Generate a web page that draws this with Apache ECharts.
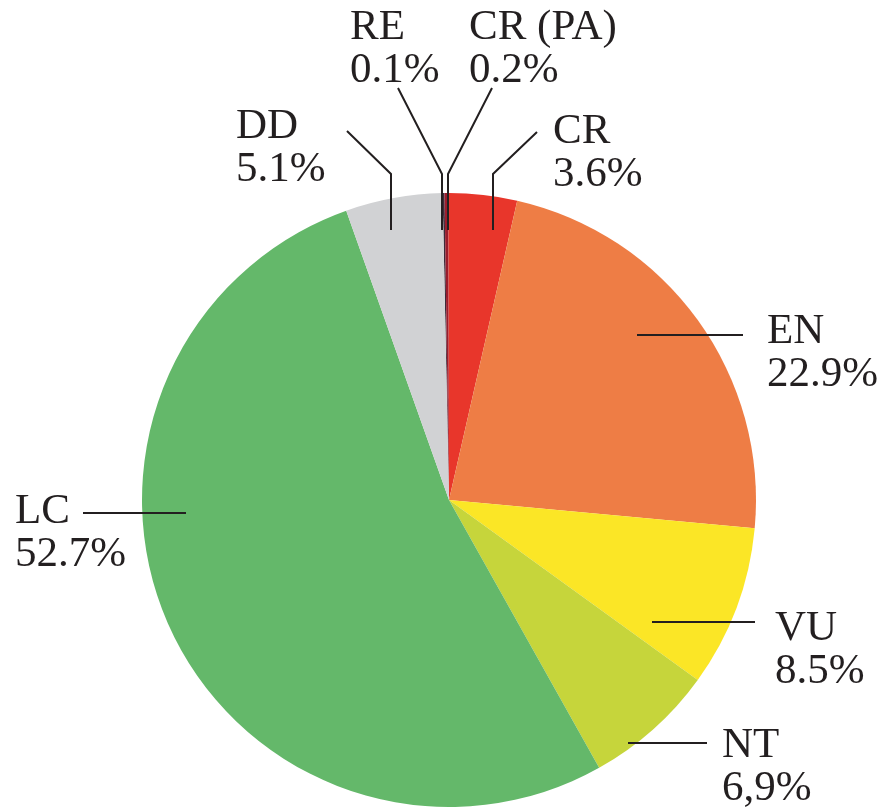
<!DOCTYPE html>
<html>
<head>
<meta charset="utf-8">
<script src="https://cdn.jsdelivr.net/npm/echarts@6/dist/echarts.min.js"></script>
<style>
  html, body { margin: 0; padding: 0; background: #ffffff; }
  #chart { width: 888px; height: 810px; }
</style>
</head>
<body>
<div id="chart"></div>
<script>
// IUCN Red List categories, clockwise from the top
const categories = ['RE', 'CR (PA)', 'CR', 'EN', 'VU', 'NT', 'LC', 'DD'];
const shares = [0.1, 0.2, 3.6, 22.9, 8.5, 6.9, 52.7, 5.1];
const shareText = ['0.1%', '0.2%', '3.6%', '22.9%', '8.5%', '6,9%', '52.7%', '5.1%'];
const colors = ['#3d2b3a', '#9b1c2c', '#e8362b', '#ee7d45', '#fbe626', '#c6d53b', '#64b86a', '#d1d2d4'];

// Label placement: left edge, vertical middle of the two-line block, leader polyline
const labelPlacement = [
  { x: 350, y: 49,  line: [[398, 88], [442, 174], [442, 230]] },
  { x: 469, y: 49,  line: [[492, 88], [448, 174], [448, 230]] },
  { x: 553, y: 153, line: [[537, 132], [493, 174], [493, 230]] },
  { x: 767, y: 353, line: [[743, 335], [690, 335], [637, 335]] },
  { x: 775, y: 650, line: [[755, 622], [703, 622], [652, 622]] },
  { x: 722, y: 767, line: [[707, 743], [668, 743], [628, 743]] },
  { x: 15,  y: 533, line: [[83, 513], [134, 513], [186, 513]] },
  { x: 236, y: 148, line: [[347, 131], [391, 174], [391, 230]] }
];

const pieGeometry = {
  center: [449, 500],
  radius: 307,
  startAngle: 91.2,
  clockwise: true
};

const chart = echarts.init(document.getElementById('chart'), null, { renderer: 'canvas' });

chart.setOption({
  animation: false,
  backgroundColor: '#ffffff',
  series: [
    // coloured wedges
    Object.assign({
      type: 'pie',
      z: 1,
      silent: true,
      label: { show: false },
      labelLine: { show: false },
      itemStyle: { borderWidth: 0 },
      data: categories.map((name, i) => ({
        name: name,
        value: shares[i],
        itemStyle: { color: colors[i] }
      }))
    }, pieGeometry),
    // labels and leader lines, drawn above the wedges
    Object.assign({
      type: 'pie',
      z: 5,
      silent: true,
      avoidLabelOverlap: false,
      minShowLabelAngle: 0,
      itemStyle: { color: 'rgba(0,0,0,0)', borderWidth: 0 },
      data: categories.map((name, i) => ({ name: name, value: shares[i] })),
      label: {
        show: true,
        position: 'outside',
        formatter: p => p.name + '\n' + shareText[p.dataIndex],
        fontFamily: '"Liberation Serif", "Times New Roman", serif',
        fontSize: 43,
        lineHeight: 43,
        color: '#231f20',
        align: 'left'
      },
      labelLine: {
        show: true,
        showAbove: true,
        length: 10,
        length2: 10,
        lineStyle: { color: '#231f20', width: 2 }
      },
      labelLayout: function (params) {
        const p = labelPlacement[params.dataIndex];
        return {
          x: p.x,
          y: p.y,
          align: 'left',
          verticalAlign: 'middle',
          labelLinePoints: p.line
        };
      }
    }, pieGeometry)
  ]
});
</script>
</body>
</html>
